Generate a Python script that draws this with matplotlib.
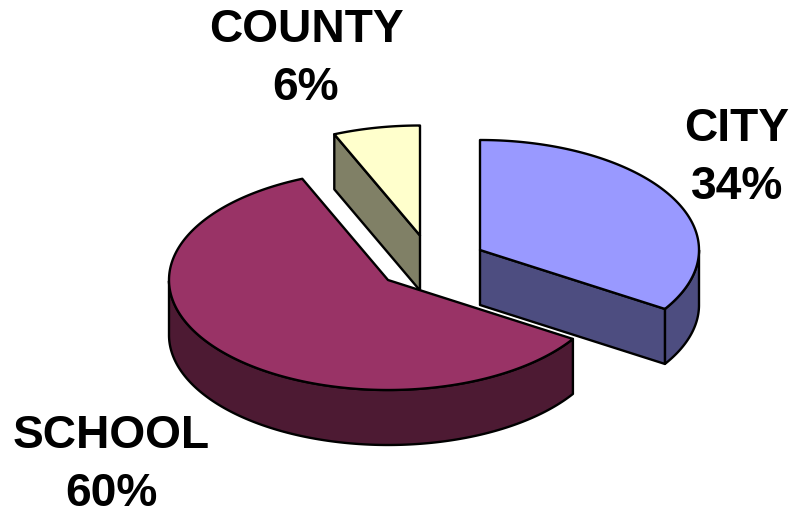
import numpy as np
import matplotlib
matplotlib.use("Agg")
import matplotlib.pyplot as plt
from matplotlib.patches import Polygon

categories = ["CITY", "SCHOOL", "COUNTY"]
values = [34, 59.6, 6.4]
top_colors = ["#9999FF", "#993366", "#FFFFCC"]
side_colors = ["#4D4D80", "#4D1A33", "#808066"]
centers = [(480, 250), (388, 280), (420, 235.5)]
label_xy = [(737, 158), (111, 465), (306, 59)]
RX, RY, DEPTH = 219, 110, 55
EDGE = 1.7

fig = plt.figure(figsize=(7.91, 5.12), dpi=100)
ax = fig.add_axes([0, 0, 1, 1])
ax.set_xlim(0, 791)
ax.set_ylim(512, 0)
ax.axis("off")


def pt(c, t):
    return c[0] + RX * np.cos(t), c[1] - RY * np.sin(t)


def draw_slice(c, a0, a1, top, side, z):
    ts = np.linspace(a0, a1, 300)
    arc = np.array([pt(c, t) for t in ts])
    mask = np.sin(ts) <= 0
    if mask.any():
        rim = arc[mask]
        low = rim + [0, DEPTH]
        ax.add_patch(Polygon(np.vstack([rim, low[::-1]]), closed=True, fc=side,
                             ec="black", lw=EDGE, zorder=z, joinstyle="round"))
    for t, normal in ((a0, a0 + np.pi / 2), (a1, a1 - np.pi / 2)):
        if np.sin(normal) < -1e-6:
            p = np.array(pt(c, t))
            q = np.array(c, float)
            ax.add_patch(Polygon([q, p, p + [0, DEPTH], q + [0, DEPTH]], closed=True,
                                 fc=side, ec="black", lw=EDGE, zorder=z, joinstyle="round"))
    ax.add_patch(Polygon(np.vstack([[c], arc]), closed=True, fc=top, ec="black",
                         lw=EDGE, zorder=z + 0.5, joinstyle="round"))


draw_order = [2, 1, 0]
starts = np.pi / 2 - np.cumsum([0] + values[:-1]) / 100 * 2 * np.pi
for i in draw_order:
    a0 = starts[i]
    a1 = a0 - values[i] / 100 * 2 * np.pi
    draw_slice(centers[i], a0, a1, top_colors[i], side_colors[i], 2 + (2 - i))

for name, v, (x, y) in zip(categories, values, label_xy):
    ax.text(x, y, f"{name}\n{v:.0f}%", ha="center", va="center", fontsize=33.2,
            fontweight="bold", family="Liberation Sans", color="black",
            linespacing=1.39, zorder=10)

fig.savefig("out.png", dpi=100)
